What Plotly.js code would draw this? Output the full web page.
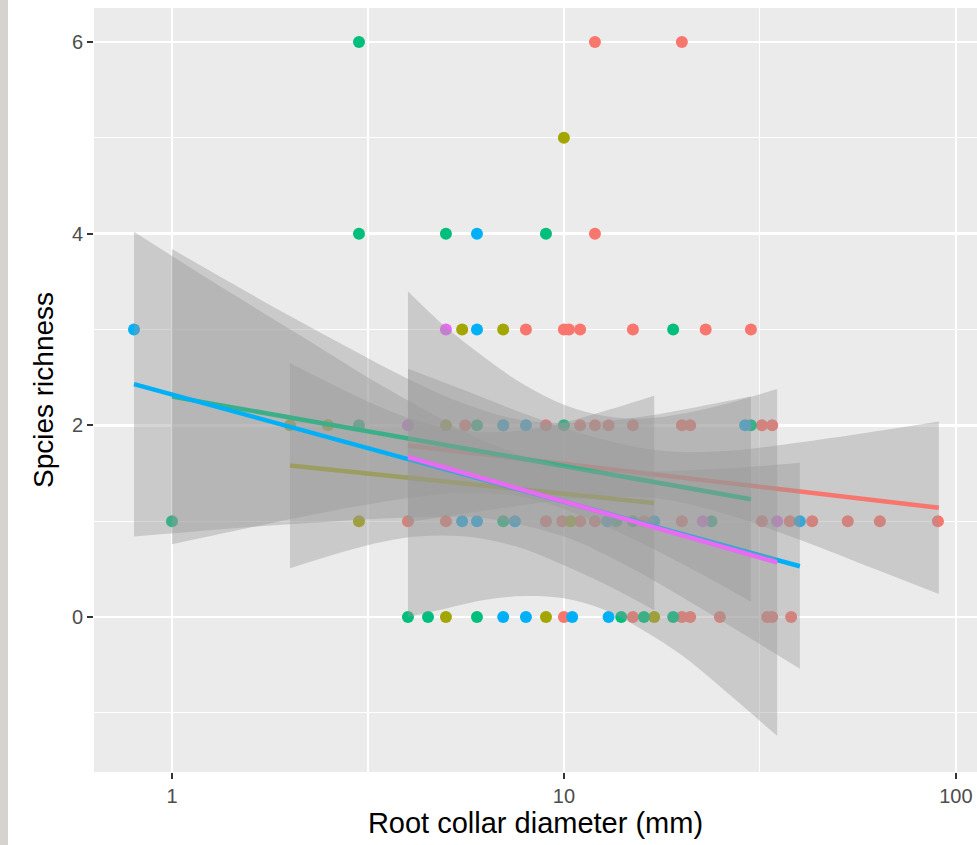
<!DOCTYPE html>
<html>
<head>
<meta charset="utf-8">
<script src="https://cdn.plot.ly/plotly-3.0.1.min.js"></script>
<style>html,body{margin:0;padding:0;background:#fff;}#chart{width:977px;height:845px;}</style>
</head>
<body>
<div id="chart"></div>
<script>
// ---- data ----
var groupNames = ["A", "B", "C", "D", "E"];
var groupColors = ["#F8766D", "#A3A500", "#00BF7D", "#00B0F6", "#E76BF3"];

// points (x = root collar diameter in mm, y = species richness)
var redX = [12, 20, 12, 8, 10, 10.3, 11, 15, 23, 30, 5.6, 9, 11, 12, 13, 15, 20, 21, 32, 34,
            4, 5, 9, 9.9, 11, 12, 16, 20, 32, 37.7, 43, 53, 64, 90, 10, 15, 20, 21, 25, 33, 34, 38];
var redY = [6, 6, 4, 3, 3, 3, 3, 3, 3, 3, 2, 2, 2, 2, 2, 2, 2, 2, 2, 2,
            1, 1, 1, 1, 1, 1, 1, 1, 1, 1, 1, 1, 1, 1, 0, 0, 0, 0, 0, 0, 0, 0];
var oliveX = [10, 5.5, 7, 2, 2.5, 5, 7, 3, 10.4, 5, 9, 17];
var oliveY = [5, 3, 3, 2, 2, 2, 2, 1, 1, 0, 0, 0];
var greenX = [3, 3, 5, 9, 19, 3, 6, 10, 30, 1, 7, 13.6, 15, 23.8, 4, 4.5, 6, 14, 16, 19];
var greenY = [6, 4, 4, 4, 3, 2, 2, 2, 2, 1, 1, 1, 1, 1, 0, 0, 0, 0, 0, 0];
var blueX = [6, 0.8, 6, 7, 8, 29, 5.5, 6, 7.5, 12.9, 17, 40, 7, 8, 10.5, 13];
var blueY = [4, 3, 3, 2, 2, 2, 1, 1, 1, 1, 1, 1, 0, 0, 0, 0];
var magentaX = [5, 4, 22.6, 35];
var magentaY = [3, 2, 1, 1];

// fitted lines (end points) and confidence bands
var redLineX = [4, 90.5],   redLineY = [1.79, 1.14];
var oliveLineX = [2, 17],   oliveLineY = [1.58, 1.19];
var greenLineX = [1, 30],   greenLineY = [2.30, 1.23];
var blueLineX = [0.8, 40],  blueLineY = [2.43, 0.53];
var magentaLineX = [4, 35], magentaLineY = [1.67, 0.57];

var redBandX  = [4, 5.62, 7.94, 11.2, 17.2, 25.1, 39.8, 63.1, 90.5];
var redBandLo = [0.99, 1.08, 1.17, 1.24, 1.24, 1.09, 0.81, 0.49, 0.24];
var redBandHi = [2.59, 2.36, 2.12, 1.91, 1.74, 1.73, 1.82, 1.94, 2.04];

var oliveBandX  = [2, 3.16, 4.22, 5.62, 7.5, 10, 13.2, 17];
var oliveBandLo = [0.51, 0.75, 0.84, 0.84, 0.74, 0.54, 0.31, 0.07];
var oliveBandHi = [2.65, 2.25, 2.05, 1.94, 1.94, 2.03, 2.17, 2.31];

var greenBandX  = [1, 1.41, 2, 2.82, 3.98, 5.62, 7.94, 11.2, 15.8, 22.4, 30];
var greenBandLo = [0.76, 0.89, 1.02, 1.14, 1.24, 1.30, 1.25, 1.05, 0.77, 0.45, 0.16];
var greenBandHi = [3.84, 3.49, 3.14, 2.81, 2.49, 2.22, 2.05, 2.03, 2.09, 2.20, 2.30];

var blueBandX  = [0.8, 1.12, 1.58, 2.24, 3.16, 4.47, 6.31, 10, 14.1, 20, 28.2, 40];
var blueBandLo = [0.84, 0.89, 0.94, 0.98, 1.02, 1.04, 1.03, 0.84, 0.56, 0.21, -0.16, -0.54];
var blueBandHi = [4.02, 3.64, 3.26, 2.88, 2.50, 2.15, 1.83, 1.57, 1.52, 1.53, 1.56, 1.61];

var magentaBandX  = [4, 5.01, 6.31, 7.94, 10, 12.6, 15.8, 20, 25.1, 35];
var magentaBandLo = [0.0, 0.09, 0.18, 0.22, 0.195, 0.08, -0.13, -0.40, -0.73, -1.24];
var magentaBandHi = [3.40, 3.02, 2.70, 2.42, 2.215, 2.10, 2.07, 2.12, 2.21, 2.38];

var xTickVals = [1, 10, 100];
var xTickText = ["1", "10", "100"];
var xMinorVals = [3.1623, 31.623];
var yTickVals = [0, 2, 4, 6];
var yMinorVals = [-1, 1, 3, 5];

// ---- build traces ----
var pts = [[redX, redY], [oliveX, oliveY], [greenX, greenY], [blueX, blueY], [magentaX, magentaY]];
var lines = [[redLineX, redLineY], [oliveLineX, oliveLineY], [greenLineX, greenLineY], [blueLineX, blueLineY], [magentaLineX, magentaLineY]];
var bands = [[redBandX, redBandLo, redBandHi], [oliveBandX, oliveBandLo, oliveBandHi],
             [greenBandX, greenBandLo, greenBandHi], [blueBandX, blueBandLo, blueBandHi],
             [magentaBandX, magentaBandLo, magentaBandHi]];

var traces = [];
pts.forEach(function (p, i) {
  traces.push({x: p[0], y: p[1], type: "scatter", mode: "markers", name: groupNames[i],
    marker: {color: groupColors[i], size: 12, line: {width: 0}}, showlegend: false, hoverinfo: "skip"});
});
bands.forEach(function (b, i) {
  traces.push({x: b[0], y: b[1], type: "scatter", mode: "lines",
    line: {width: 0, shape: "spline", smoothing: 1}, showlegend: false, hoverinfo: "skip"});
  traces.push({x: b[0], y: b[2], type: "scatter", mode: "lines", fill: "tonexty",
    fillcolor: "rgba(153,153,153,0.4)",
    line: {width: 0, shape: "spline", smoothing: 1}, showlegend: false, hoverinfo: "skip"});
  traces.push({x: lines[i][0], y: lines[i][1], type: "scatter", mode: "lines",
    line: {color: groupColors[i], width: 4.5}, showlegend: false, hoverinfo: "skip"});
});

var layout = {
  width: 977, height: 845,
  margin: {l: 94, r: 0, t: 8, b: 73},
  paper_bgcolor: "#ffffff",
  plot_bgcolor: "#EBEBEB",
  font: {family: "Liberation Sans, Arial, sans-serif"},
  showlegend: false,
  xaxis: {
    type: "log", range: [-0.199, 2.054], automargin: false,
    tickvals: xTickVals, ticktext: xTickText,
    showgrid: true, gridcolor: "#ffffff", gridwidth: 2.5,
    minor: {tickmode: "array", tickvals: xMinorVals, showgrid: true, gridcolor: "#ffffff", gridwidth: 1.2, ticks: ""},
    zeroline: false, showline: false,
    ticks: "outside", ticklen: 6, tickwidth: 2, tickcolor: "#333333",
    tickfont: {size: 20, color: "#4D4D4D"},
    title: {text: "Root collar diameter (mm)", font: {size: 29, color: "#000000"}, standoff: 5}
  },
  yaxis: {
    range: [-1.617, 6.355], automargin: false,
    tickvals: yTickVals,
    showgrid: true, gridcolor: "#ffffff", gridwidth: 2.5,
    minor: {tickmode: "array", tickvals: yMinorVals, showgrid: true, gridcolor: "#ffffff", gridwidth: 1.2, ticks: ""},
    zeroline: false, showline: false,
    ticks: "outside", ticklen: 6, tickwidth: 2, tickcolor: "#333333",
    tickfont: {size: 20, color: "#4D4D4D"},
    title: {text: "Spcies richness", font: {size: 28, color: "#000000"}, standoff: 10}
  },
  shapes: [
    {type: "rect", xref: "paper", yref: "paper", x0: -94 / 883, x1: -86 / 883, y0: -73 / 764, y1: 1 + 8 / 764,
     fillcolor: "#D6D3CE", line: {width: 0}, layer: "above"}
  ]
};

Plotly.newPlot("chart", traces, layout, {staticPlot: true, displayModeBar: false});
</script>
</body>
</html>
